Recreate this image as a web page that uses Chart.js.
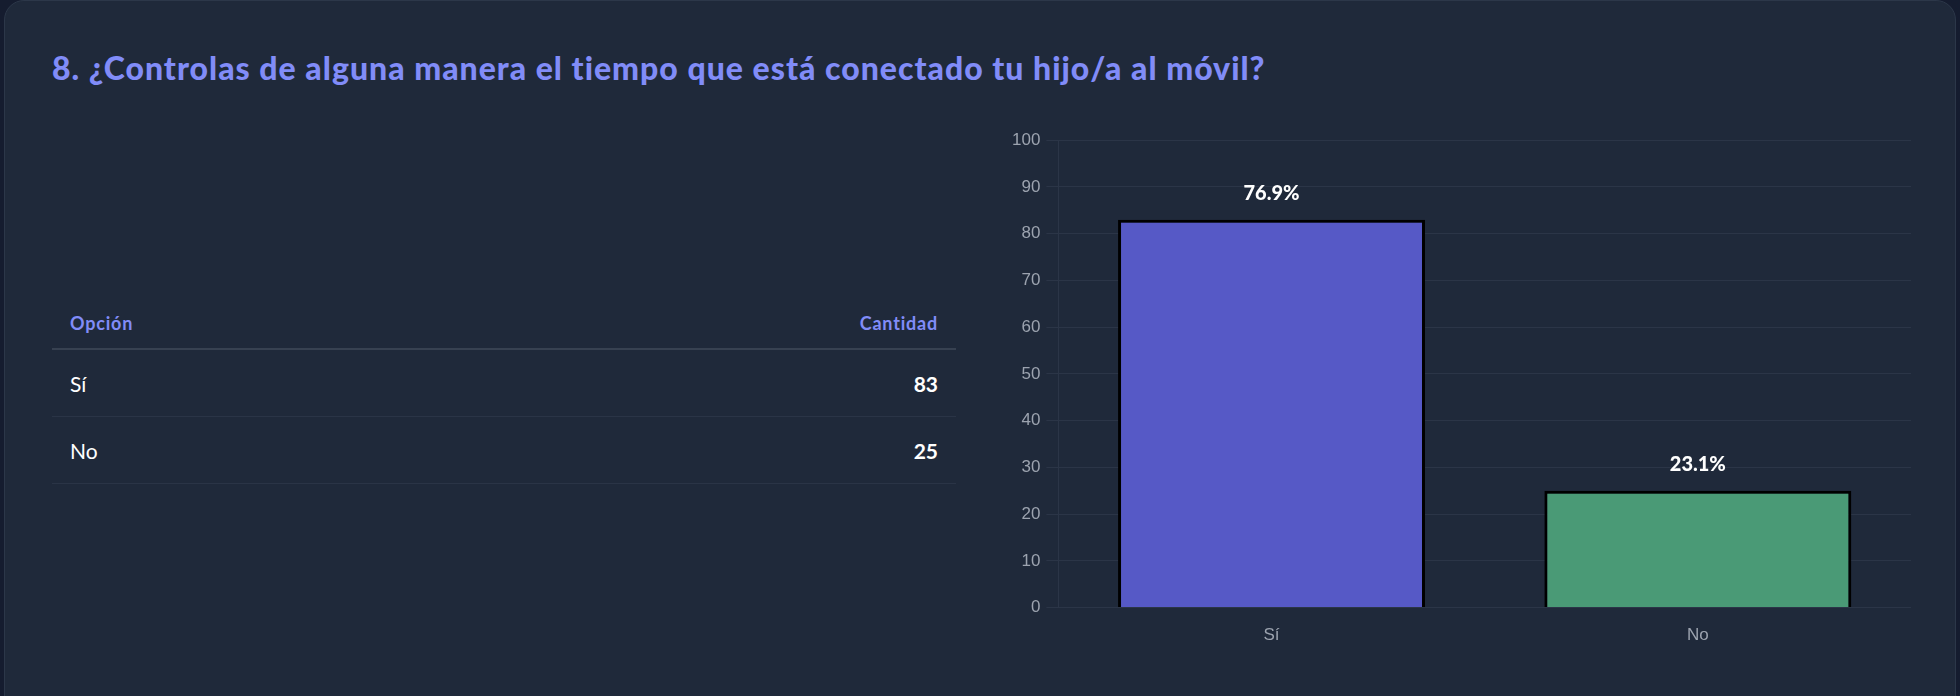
<!DOCTYPE html>
<html lang="es">
<head>
<meta charset="utf-8">
<title>Pregunta 8</title>
<script src="https://cdn.jsdelivr.net/npm/chart.js"></script>
<style>
  html, body { margin: 0; padding: 0; }
  body { width: 1960px; height: 696px; background: #151c2f; overflow: hidden; font-family: Lato, "Noto Sans", sans-serif; }
  .card { position: absolute; left: 4px; top: 0; width: 1952px; height: 740px; background: #1f293a; border: 1px solid #2c3749; border-radius: 20px; box-sizing: border-box; }
  h2 { position: absolute; left: 52px; top: 46px; margin: 0; font-size: 32px; line-height: 44px; font-weight: 900; color: #818cf8; letter-spacing: 1px; white-space: nowrap; }
  table { position: absolute; left: 52px; top: 298px; width: 904px; border-collapse: collapse; }
  th { font-size: 18px; font-weight: 700; color: #818cf8; text-align: left; padding: 0 18px; height: 50px; border-bottom: 2px solid #374151; letter-spacing: 0.8px; }
  th.num, td.num { text-align: right; }
  td { font-size: 21px; color: #fff; padding: 0 18px; height: 66px; border-bottom: 1px solid #2a3446; }
  td.num { font-weight: 700; }
  .chart-box { position: absolute; left: 1006px; top: 124px; width: 905px; height: 532px; }
</style>
</head>
<body>
<div class="card"></div>
<h2>8. ¿Controlas de alguna manera el tiempo que está conectado tu hijo/a al móvil?</h2>
<table>
  <thead><tr><th>Opción</th><th class="num">Cantidad</th></tr></thead>
  <tbody id="rows"></tbody>
</table>
<div class="chart-box"><canvas id="respuestasChart"></canvas></div>

<script>
  const opciones = ['Sí', 'No'];
  const cantidades = [83, 25];
  const colores = ['#5659c6', '#4a9a76'];
  const yTicksMax = 100;

  const total = cantidades.reduce((a, b) => a + b, 0);

  const tbody = document.getElementById('rows');
  opciones.forEach((op, i) => {
    const tr = document.createElement('tr');
    tr.innerHTML = '<td>' + op + '</td><td class="num">' + cantidades[i] + '</td>';
    tbody.appendChild(tr);
  });

  // percentage above each bar
  const percentLabels = {
    id: 'percentLabels',
    afterDatasetsDraw(chart) {
      const ctx = chart.ctx;
      const meta = chart.getDatasetMeta(0);
      ctx.save();
      ctx.fillStyle = '#ffffff';
      ctx.font = '900 20px Lato';
      ctx.textAlign = 'center';
      ctx.textBaseline = 'middle';
      meta.data.forEach((bar, i) => {
        const pct = (cantidades[i] / total * 100).toFixed(1) + '%';
        ctx.fillText(pct, bar.x, bar.y - 26);
      });
      ctx.restore();
    }
  };

  const ctx = document.getElementById('respuestasChart').getContext('2d');
  new Chart(ctx, {
    type: 'bar',
    data: {
      labels: opciones,
      datasets: [{
        data: cantidades,
        backgroundColor: colores,
        borderColor: '#000000',
        borderWidth: 3
      }]
    },
    options: {
      responsive: true,
      maintainAspectRatio: false,
      animation: false,
      plugins: {
        legend: { display: false },
        tooltip: { enabled: false }
      },
      scales: {
        x: {
          grid: { display: false },
          border: { display: false },
          ticks: { color: '#9ca3af', font: { size: 17 }, padding: 10 }
        },
        y: {
          min: 0,
          max: yTicksMax,
          ticks: { stepSize: 10, color: '#9ca3af', font: { size: 17 }, padding: 6 },
          grid: { color: '#2b3547', tickLength: 12 },
          border: { display: true, color: '#2b3547' }
        }
      }
    },
    plugins: [percentLabels]
  });
</script>
</body>
</html>
